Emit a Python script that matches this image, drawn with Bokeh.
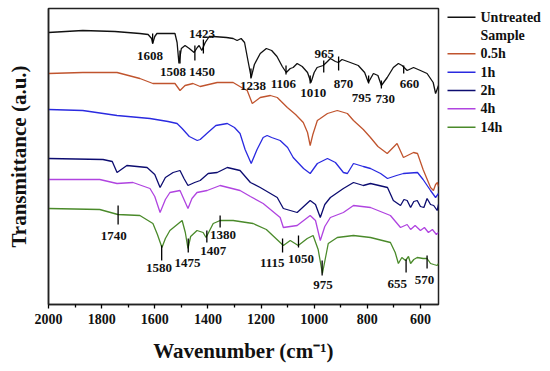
from bokeh.plotting import figure
from bokeh.layouts import row
from bokeh.models import Range1d, FixedTicker, ColumnDataSource
from bokeh.core.properties import value
from bokeh.embed import file_html
from bokeh.resources import INLINE

# ---- data (wavenumber cm-1, transmittance a.u. with vertical offsets) ----
black_wn = [2000,1871,1750,1656,1625,1612,1608,1600,1592,1560,1524,1516,1509,1500,1486,1470,1452,1440,1433,1423,1410,1395,1380,1330,1305,1290,1275,1262,1250,1237,1225,1203,1180,1160,1140,1120,1105,1090,1079,1064,1045,1025,1012,1000,989,966,950,939,920,909,895,864,834,810,796,777,760,747,725,702,683,669,650,626,600,575,552,543,532]
black_T = [272,274,273,271,270,266,261,268,271,271,271,262,241,256,259,256,252,257,259,254,262,268,268,267,266,264,266,262,245,227,240,251,256,254,248,238,232,236,237,241,238,232,222,232,237,239,243,246,243,242,245,242,239,232,222,231,229,219,227,237,241,239,234,237,234,231,222,211,219]

red_wn = [2000,1871,1742,1656,1607,1524,1505,1486,1456,1429,1365,1305,1267,1252,1233,1203,1165,1139,1101,1070,1041,1025,1015,1005,988,977,950,913,875,852,815,788,760,725,688,664,626,611,590,562,551,543,536,532]
red_T = [231,232,232,226,221,221,214,219,221,218,222,222,216,214,201,207,209,207,197,190,182,172,159,170,184,186,191,194,191,184,175,167,158,151,161,147,152,151,135,117,114,120,122,118]

blue_wn = [2000,1871,1742,1618,1550,1516,1497,1470,1440,1429,1400,1370,1327,1300,1279,1260,1237,1215,1192,1177,1160,1128,1100,1079,1040,1015,988,950,920,890,875,852,815,788,750,724,690,664,611,590,562,543,532]
blue_T = [195,194,189,186,183,181,176,168,164,165,172,179,181,177,171,155,141,155,167,169,167,164,157,147,136,131,141,146,142,132,131,141,138,136,131,126,129,131,132,125,114,107,111]

navy_wn = [2000,1795,1760,1742,1705,1629,1600,1580,1560,1531,1505,1490,1475,1450,1429,1399,1365,1327,1279,1240,1203,1139,1116,1064,1015,995,977,960,939,890,852,815,788,724,702,675,662,650,637,625,612,600,587,575,562,550,537,532]
navy_T = [146,145,143,132,139,137,130,117,127,132,134,126,119,122,124,131,132,137,134,122,117,107,96,92,104,100,87,100,107,116,122,119,121,117,104,99,105,104,97,103,104,98,97,106,100,99,94,100]

violet_wn = [2000,1807,1742,1682,1618,1600,1580,1560,1543,1505,1490,1475,1460,1441,1403,1354,1279,1240,1192,1128,1116,1064,1015,995,977,960,939,890,852,788,713,675,650,637,620,600,585,570,555,540,532]
violet_T = [125,125,121,122,116,108,92,105,112,114,105,96,106,112,114,119,114,108,101,87,77,79,89,84,64,78,87,92,99,97,89,77,80,75,79,74,77,72,75,70,72]

green_wn = [2000,1807,1739,1656,1607,1590,1573,1560,1543,1497,1485,1475,1465,1441,1418,1407,1380,1354,1305,1230,1180,1128,1116,1090,1060,1026,1004,985,969,955,947,913,852,788,713,695,683,670,656,645,637,625,612,590,575,562,550,537,532]
green_T = [96,95,90,89,81,70,57,66,74,84,72,56,68,74,72,67,81,84,84,81,75,62,59,64,59,66,69,55,31,50,61,67,69,67,62,52,41,47,44,48,41,45,47,46,46,41,40,39,41]

series_names = ["0.5h", "1h", "2h", "4h", "14h"]
series_colors = ["#111111", "#c0542e", "#2a2ae0", "#0c0c70", "#b044e0", "#4a8a2a"]

# peak marks: wavenumber, top, bottom
mark_wn = [1608,1505,1449,1417,1238,1106,1015,964,908,795,747,663,
           1738,1574,1474,1404,1354,1119,1059,970,654,575]
mark_top = [271,254,259,265,236,239,229,244,248,229,224,239,
            99,59,66,74,89,66,69,44,45,49]
mark_bot = [261,241,244,251,226,230,221,232,234,221,216,231,
            80,44,52,62,77,52,57,29,32,36]

# peak labels
lab_text = ["1608","1508","1450","1423","1238","1106","1010","965","870","795","730","660",
            "1740","1580","1475","1407","1380","1115","1050","975","655","570"]
lab_wn = [1618,1531,1422,1422,1230,1116,1003,962,890,822,732,641,
          1754,1584,1477,1380,1343,1158,1050,967,687,585]
lab_T = [249,233,233,271,219,221,212,251,221,207,206,221,
         69,37,42,54,70,42,46,20,21,25]

major_ticks = [2000, 1800, 1600, 1400, 1200, 1000, 800, 600]
minor_ticks = [1900, 1700, 1500, 1300, 1100, 900, 700]

FONT = "Liberation Serif"
H = 366
TOP, BOTTOM = 8, 62

p = figure(width=440, height=H, x_range=Range1d(2000, 532), y_range=Range1d(0, 296),
           output_backend="svg", toolbar_location=None,
           min_border_left=48, min_border_right=2, min_border_top=TOP, min_border_bottom=BOTTOM)
p.xgrid.visible = False
p.ygrid.visible = False
p.outline_line_color = "#222222"
p.outline_line_width = 1.5
p.background_fill_color = "white"
p.border_fill_color = "white"

for wn, T, c in zip([black_wn, red_wn, blue_wn, navy_wn, violet_wn, green_wn],
                    [black_T, red_T, blue_T, navy_T, violet_T, green_T], series_colors):
    p.line(wn, T, line_color=c, line_width=1.3)

p.segment(x0=mark_wn, y0=mark_bot, x1=mark_wn, y1=mark_top, line_color="black", line_width=1.3)
src = ColumnDataSource(dict(x=lab_wn, y=lab_T, t=lab_text))
p.text(x="x", y="y", text="t", source=src, text_font=value(FONT), text_font_style="bold",
       text_font_size="13px", text_align="center", text_baseline="middle", text_color="#111111")

xa = p.xaxis[0]
xa.ticker = FixedTicker(ticks=major_ticks, minor_ticks=minor_ticks)
xa.axis_label = "Wavenumber (cm\u207b\u00b9)"
xa.axis_label_text_font = FONT
xa.axis_label_text_font_style = "bold"
xa.axis_label_text_font_size = "21px"
xa.axis_label_text_color = "#111111"
xa.axis_label_standoff = 12
xa.major_label_text_font = FONT
xa.major_label_text_font_style = "bold"
xa.major_label_text_font_size = "14px"
xa.major_label_text_color = "#111111"
xa.major_label_standoff = 5
xa.major_tick_in = 0
xa.major_tick_out = 4
xa.minor_tick_in = 0
xa.minor_tick_out = 3
xa.axis_line_width = 1.5
xa.axis_line_color = "#222222"
xa.major_tick_line_width = 1.3
xa.minor_tick_line_width = 1.3

ya = p.yaxis[0]
ya.ticker = FixedTicker(ticks=[])
ya.axis_label = "Transmittance (a.u.)"
ya.axis_label_text_font = FONT
ya.axis_label_text_font_style = "bold"
ya.axis_label_text_font_size = "21px"
ya.axis_label_text_color = "#111111"
ya.axis_label_standoff = 18
ya.axis_line_width = 1.5
ya.axis_line_color = "#222222"
ya.major_label_text_font_size = "0px"

# ---- legend panel (pixel coordinates of the page, y downwards) ----
lg = figure(width=109, height=H, x_range=Range1d(0, 109), y_range=Range1d(H - BOTTOM, TOP),
            output_backend="svg", toolbar_location=None,
            min_border_left=0, min_border_right=0, min_border_top=TOP, min_border_bottom=BOTTOM)
lg.axis.visible = False
lg.xgrid.visible = False
lg.ygrid.visible = False
lg.outline_line_color = None
lg.background_fill_color = "white"
lg.border_fill_color = "white"

leg_labels = ["Untreated", "Sample"] + series_names
leg_colors = [series_colors[0], None] + series_colors[1:]
row_y = [16.7 + 18.33 * i for i in range(len(leg_labels))]
seg_y = [y for y, c in zip(row_y, leg_colors) if c is not None]
seg_c = [c for c in leg_colors if c is not None]
lg.segment(x0=[7] * len(seg_y), x1=[35] * len(seg_y), y0=seg_y, y1=seg_y,
           line_color=seg_c, line_width=1.5)
lsrc = ColumnDataSource(dict(x=[40] * len(leg_labels), y=row_y, t=leg_labels))
lg.text(x="x", y="y", text="t", source=lsrc, text_font=value(FONT), text_font_style="bold",
        text_font_size="14px", text_align="left", text_baseline="middle", text_color="#111111")

layout = row(p, lg, spacing=0)
open("out.html", "w").write(file_html(layout, INLINE))
